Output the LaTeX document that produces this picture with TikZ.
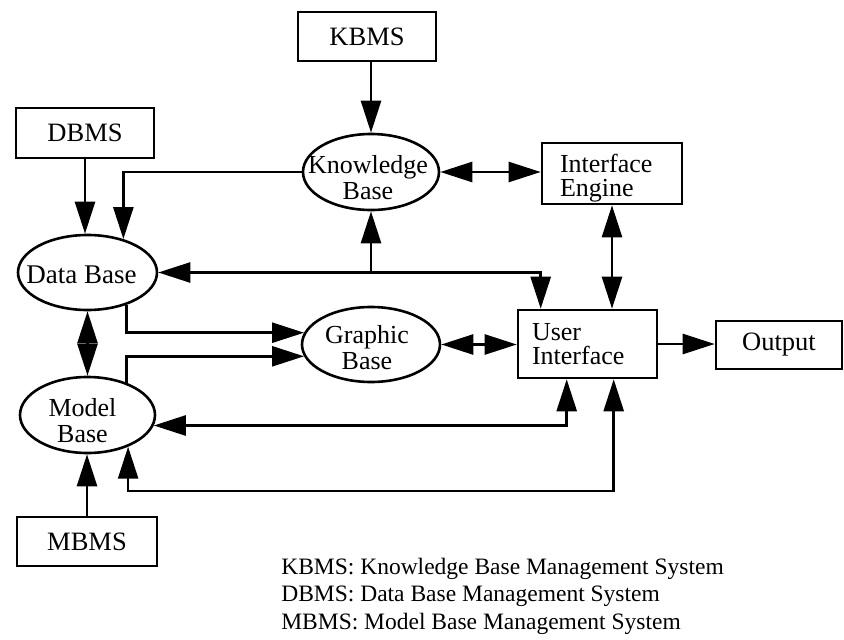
\documentclass[tikz,border=0pt]{standalone}
\usepackage{fontspec}
\setmainfont{Liberation Serif}
\usetikzlibrary{arrows.meta,shapes.geometric,calc}
\begin{document}
\begin{tikzpicture}[x=1pt,y=-1pt,
  line width=2.6pt,
  >={Triangle[length=32pt,width=20pt]},
  box/.style={draw, rectangle, inner sep=0pt, font=\fontsize{26.5}{24}\selectfont},
  oval/.style={draw, ellipse, inner sep=0pt},
  lbl/.style={font=\fontsize{26}{26}\selectfont, align=center, inner sep=0pt},
  btxt/.style={font=\fontsize{26}{24}\selectfont, align=left, inner sep=0pt, anchor=west},
  legend/.style={font=\fontsize{23.5}{27.5}\selectfont, align=left, inner sep=0pt}
]
\fill[white] (0,0) rectangle (844,640);
\useasboundingbox (0,0) rectangle (844,640);

% boxes
\node[box, minimum width=138pt, minimum height=49pt] (kbms) at (367,36.5) {KBMS};
\node[box, minimum width=138pt, minimum height=50pt] (dbms) at (85,133) {DBMS};
\node[box, minimum width=140pt, minimum height=49pt] (mbms) at (87,541.5) {MBMS};
\node[box, minimum width=126pt, minimum height=48pt] (out) at (779,345) {Output};
\node[box, minimum width=140pt, minimum height=61pt] (ie) at (612,173.5) {};
\node[btxt] (iet) at ($(ie.west)+(18,5)$) {Interface\\Engine};
\node[box, minimum width=139pt, minimum height=68pt] (ui) at (587.5,344) {};
\node[btxt] (uit) at ($(ui.west)+(14,0)$) {User\\Interface};

% ellipses
\node[oval, minimum width=136pt, minimum height=76pt] (kb) at (371,172) {};
\node[lbl, xshift=-3pt, yshift=-6pt] (kbt) at (kb) {Knowledge\\Base};
\node[oval, minimum width=139pt, minimum height=75pt] (db) at (87.5,272.5) {};
\node[lbl, font=\fontsize{27}{26}\selectfont, xshift=-6pt, yshift=-2pt] (dbt) at (db) {Data Base};
\node[oval, minimum width=135pt, minimum height=76pt] (mb) at (87.5,415) {};
\node[lbl, xshift=-5pt, yshift=-6pt] (mbt) at (mb) {Model\\Base};
\node[oval, minimum width=138pt, minimum height=75pt] (gb) at (371,344.5) {};
\node[lbl, xshift=-4pt, yshift=-3pt] (gbt) at (gb) {Graphic\\Base};

% helper coordinates
\coordinate (uin1) at ($(ui.north west)+(24,0)$);
\coordinate (uib1) at ($(ui.south west)+(50,0)$);
\coordinate (uib2) at ($(ui.south west)+(97,0)$);
\coordinate (lowline) at (0,491);

% connectors
\draw[->] (kbms.south -| kb.north) -- (kb.north);
\draw[->] (dbms.south) -- (dbms.south |- db.north);
\draw[->] (kb.west) -| (db.43);
\draw[<->] (db.east) -| (uin1);
\draw[->] (kb.south |- db.east) -- (kb.south);
\draw[<->] (kb.east) -- (kb.east -| ie.west);
\draw[<->] (ie.south) -- (ie.south |- ui.north);
\draw[<->] (db.south) -- (mb.north);
\draw[->] (db.-40) |- (gb.170);
\draw[->] (mb.40) |- (gb.190);
\draw[<->] (gb.east) -- (gb.east -| ui.west);
\draw[->] (ui.east) -- (ui.east -| out.west);
\draw[<->] (mb.-9) -| (uib1);
\draw[<->] (mb.-38) -- (mb.-38 |- lowline) -| (uib2);
\draw[->] (mbms.north) -- (mbms.north |- mb.south);

% legend
\node[legend, anchor=west] (leg) at (280,596) {KBMS: Knowledge Base Management System\\DBMS: Data Base Management System\\MBMS: Model Base Management System};
\end{tikzpicture}
\end{document}
